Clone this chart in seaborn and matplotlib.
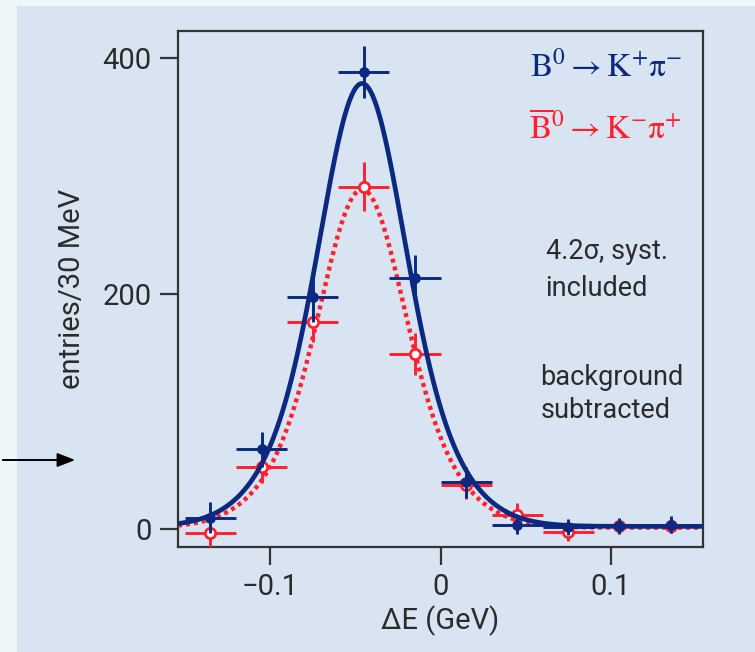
"""Delta-E distribution for B0 -> K+ pi- and B0bar -> K- pi+ (background subtracted)."""
import matplotlib.pyplot as plt
import numpy as np
import pandas as pd
import seaborn as sns
from matplotlib.patches import Rectangle

# bin centres (GeV), 30 MeV bins
bin_centres = [-0.135, -0.105, -0.075, -0.045, -0.015, 0.015, 0.045, 0.075, 0.105, 0.135]
bin_halfwidth = 0.015

# B0 -> K+ pi-
b0_entries = [10, 68, 197, 388, 213, 40, 4, 2, 3, 4]
b0_errors = [13, 15, 21, 22, 20, 13, 8, 7, 7, 7]

# B0bar -> K- pi+
b0bar_entries = [-3, 53, 176, 291, 149, 38, 12, -2, 3, 3]
b0bar_errors = [12, 14, 17, 21, 18, 12, 10, 8, 6, 6]

# fitted shapes: core + wide gaussian + flat level
fit_mean = -0.046
fit_sigma_core = 0.022
fit_sigma_wide = 0.037
b0_fit = {"core": 208, "wide": 168, "flat": 2.5}
b0bar_fit = {"core": 160, "wide": 127, "flat": 1.5}

x_ticks = [-0.1, 0, 0.1]
x_tick_labels = ["\u22120.1", "0", "0.1"]
y_ticks = [0, 200, 400]

BLUE = "#0b2980"
RED = "#ff1f2d"
PANEL = "#d9e4f2"
OUTER = "#eef6fa"
TEXT = "#2b2b2b"

sns.set_theme(style="ticks")
plt.rcParams["font.family"] = ["Roboto", "DejaVu Sans"]


def fit_shape(x, pars):
    d = np.asarray(x) - fit_mean
    return (pars["core"] * np.exp(-d**2 / (2 * fit_sigma_core**2))
            + pars["wide"] * np.exp(-d**2 / (2 * fit_sigma_wide**2))
            + pars["flat"])


xlim = (-0.154, 0.154)
grid = np.linspace(xlim[0], xlim[1], 500)
curves = pd.DataFrame({
    "dE": np.concatenate([grid, grid]),
    "entries": np.concatenate([fit_shape(grid, b0_fit), fit_shape(grid, b0bar_fit)]),
    "mode": ["B0"] * len(grid) + ["B0bar"] * len(grid),
})

fig = plt.figure(figsize=(7.55, 6.52), dpi=100, facecolor=OUTER)
fig.add_artist(Rectangle((17 / 755, 0), 1 - 17 / 755, 1 - 6 / 652,
                         transform=fig.transFigure, facecolor=PANEL,
                         edgecolor="none", zorder=0))
ax = fig.add_axes([178 / 755, 1 - 547 / 652, (703 - 178) / 755, (547 - 31) / 652])
ax.set_facecolor(PANEL)

# red points + dotted fit
ax.errorbar(bin_centres, b0bar_entries, yerr=b0bar_errors, xerr=bin_halfwidth,
            fmt="none", ecolor=RED, elinewidth=2.1, zorder=3)
sns.lineplot(data=curves[curves["mode"] == "B0bar"], x="dE", y="entries",
             color=RED, lw=3.2, ax=ax, zorder=4)
ax.lines[-1].set_dashes((0.9, 0.9))
ax.scatter(bin_centres, b0bar_entries, s=55, facecolor="white", edgecolor=RED,
           linewidth=2, zorder=5)

# blue points + solid fit
ax.errorbar(bin_centres, b0_entries, yerr=b0_errors, xerr=bin_halfwidth,
            fmt="none", ecolor=BLUE, elinewidth=2.1, zorder=6)
sns.lineplot(data=curves[curves["mode"] == "B0"], x="dE", y="entries",
             color=BLUE, lw=3.4, ax=ax, zorder=7)
ax.scatter(bin_centres, b0_entries, s=45, color=BLUE, zorder=8)

ax.set_xlim(*xlim)
ax.set_ylim(-15, 423)
ax.set_xticks(x_ticks)
ax.set_xticklabels(x_tick_labels)
ax.set_yticks(y_ticks)
ax.tick_params(length=13, width=1.6, color="#333333", labelsize=21,
               labelcolor=TEXT, pad=6)
for sp in ax.spines.values():
    sp.set_linewidth(1.6)
    sp.set_color("#333333")
ax.set_xlabel("\u0394E (GeV)", fontsize=21, color=TEXT, labelpad=3)
ax.set_ylabel("entries/30 MeV", fontsize=21, color=TEXT, labelpad=12)

ax.text(0.96, 0.93, r"$\mathrm{B}^0 \rightarrow \mathrm{K}^{+}\mathrm{\pi}^{-}$",
        transform=ax.transAxes, ha="right", va="center", color=BLUE,
        fontsize=24, math_fontfamily="stix")
ax.text(0.96, 0.81, r"$\overline{\mathrm{B}}^0 \rightarrow \mathrm{K}^{-}\mathrm{\pi}^{+}$",
        transform=ax.transAxes, ha="right", va="center", color=RED,
        fontsize=24, math_fontfamily="stix")
ax.text(0.70, 0.537, "4.2\u03c3, syst.\nincluded", transform=ax.transAxes,
        ha="left", va="center", fontsize=19.5, color=TEXT, linespacing=1.5)
ax.text(0.69, 0.296, "background\nsubtracted", transform=ax.transAxes,
        ha="left", va="center", fontsize=19.5, color=TEXT, linespacing=1.3)

ax.annotate("", xy=(78 / 755, 1 - 460 / 652), xytext=(0, 1 - 460 / 652),
            xycoords="figure fraction", textcoords="figure fraction",
            arrowprops=dict(arrowstyle="-|>,head_length=0.9,head_width=0.35",
                            color="black", lw=1.4))

fig.savefig("out.png", dpi=100, facecolor=OUTER)
